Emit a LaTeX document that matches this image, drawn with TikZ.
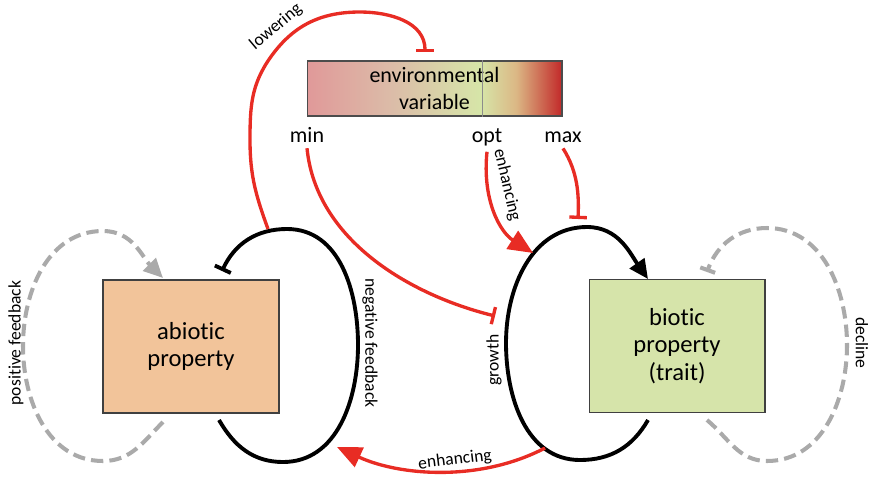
\documentclass[tikz,border=0pt]{standalone}
\usepackage{fontspec}
\setmainfont{Carlito}[Ligatures=NoCommon]
\usetikzlibrary{arrows.meta}

\definecolor{abioticfill}{RGB}{242,196,154}
\definecolor{bioticfill}{RGB}{214,228,170}
\definecolor{arrowred}{RGB}{232,44,36}
\definecolor{loopgray}{RGB}{170,170,170}
\pgfdeclarehorizontalshading{envshading}{100bp}{rgb(0bp)=(0.88,0.60,0.60); rgb(25bp)=(0.88,0.60,0.60); rgb(42bp)=(0.86,0.74,0.66); rgb(59bp)=(0.84,0.90,0.66); rgb(66bp)=(0.86,0.72,0.52); rgb(75bp)=(0.76,0.16,0.16); rgb(100bp)=(0.76,0.16,0.16)}

\begin{document}
\begin{tikzpicture}[x=0.02cm, y=0.02cm, prop/.style={rectangle, draw=black!75, line width=0.6pt, minimum width=3.52cm, minimum height=2.66cm, align=center, font=\fontsize{14}{15.8}\selectfont}, envbox/.style={rectangle, draw=black!70, line width=0.6pt, shading=envshading, minimum width=5.1cm, minimum height=1.1cm, align=center, font=\fontsize{12.5}{15.4}\selectfont}, lbl/.style={font=\fontsize{12.5}{15}\selectfont}, small/.style={font=\fontsize{10}{12}\selectfont}, loop/.style={line width=2.2pt}, feedback/.style={line width=2.3pt, loopgray, dash pattern=on 7pt off 3.5pt}, redline/.style={arrowred, line width=1.9pt}]
	\useasboundingbox (0,0) rectangle (874,-477);
	% nodes
	\node[envbox] (envvar) at (434.5,-88.5) {environmental\\variable};
	\node[lbl, anchor=base] (minlbl) at (307,-142) {min};
	\node[lbl, anchor=base] (optlbl) at (487,-142) {opt};
	\node[lbl, anchor=base] (maxlbl) at (563,-142) {max};
	\node[prop, fill=abioticfill] (abiotic) at (191,-346.5) {abiotic\\property};
	\node[prop, fill=bioticfill] (biotic) at (677,-346) {biotic\\property\\(trait)};
	\draw[black!45, line width=0.8pt] ([xshift=3.52cm]envvar.north west) -- ([xshift=3.52cm]envvar.south west);

	% loop ends
	\coordinate (negstart) at (219,-420);
	\coordinate (negend) at (222,-271);
	\coordinate (grostart) at (648,-420);
	\coordinate (groend) at (648,-279);
	\coordinate (posstart) at (163,-422);
	\coordinate (posend) at (163,-278);
	\coordinate (decstart) at (707,-420);
	\coordinate (decend) at (707,-272);
	\coordinate (lowstart) at (268,-229);
	\coordinate (lowend) at (425,-52);
	\coordinate (minend) at (495,-316);
	\coordinate (optend) at (533,-253);
	\coordinate (maxend) at (578,-219);
	\coordinate (enhstart) at (545,-448);
	\coordinate (enhend) at (337,-447);

	% loops
	\draw[loop, -{Bar[width=10pt]}] (negstart) to[out=-60,in=180] (283,-462) to[out=0,in=-90] (358,-345) to[out=90,in=0] (287,-229) to[out=180,in=65] (negend);
	\draw[loop, -{Triangle[length=11pt,width=10pt]}] (grostart) to[out=-120,in=0] (580,-460) to[out=180,in=-90] (506,-343) to[out=90,in=180] (587,-227) to[out=0,in=125] (groend);
	\draw[feedback, -{Triangle[length=11pt,width=10pt]}] (posstart) to[out=-135,in=0] (103,-461) to[out=180,in=-90] (23,-346) to[out=90,in=180] (103,-231) to[out=0,in=135] (posend);
	\draw[feedback, -{Bar[width=9pt]}] (decstart) to[out=-40,in=180] (767,-461) to[out=0,in=-90] (847,-345) to[out=90,in=0] (767,-228) to[out=180,in=70] (decend);

	% edges
	\draw[redline, -{Bar[width=10pt]}] (lowstart) to[out=110,in=-90] (250,-140) to[out=90,in=-125] (270,-58) to[out=55,in=180] (360,-12) to[out=0,in=90] (lowend);
	\draw[redline, -{Bar[width=10pt]}] (minlbl.south) .. controls (316,-240) and (410,-295) .. (minend);
	\draw[redline, -{Triangle[length=14pt,width=12pt]}] (optlbl.south) .. controls (482,-200) and (500,-232) .. (optend);
	\draw[redline, -{Bar[width=10pt]}] (maxlbl.south) .. controls (578,-172) and (579,-195) .. (maxend);
	\draw[redline, -{Triangle[length=14pt,width=12pt]}] (enhstart) .. controls (480,-482) and (400,-476) .. (enhend);

	% labels
	\node[small, rotate=40] (lowlbl) at (276,-27) {lowering};
	\node[small, rotate=-77] (optenh) at (507,-185) {enhancing};
	\node[small, rotate=7] (botenh) at (455,-460) {enhancing};
	\node[small, rotate=-90] (neglbl) at (370,-343) {negative feedback};
	\node[small, rotate=90] (grolbl) at (494,-360) {growth};
	\node[small, rotate=90] (poslbl) at (16,-343) {positive feedback};
	\node[small, rotate=-90] (declbl) at (862,-343) {decline};
\end{tikzpicture}
\end{document}
